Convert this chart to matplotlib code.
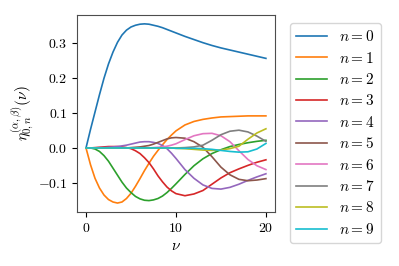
import matplotlib
matplotlib.use("Agg")
import matplotlib.pyplot as plt

plt.rcParams["font.family"] = "serif"
plt.rcParams["font.serif"] = ["cmr10"]
plt.rcParams["mathtext.fontset"] = "cm"
plt.rcParams["axes.formatter.use_mathtext"] = True
plt.rcParams["font.size"] = 10

# half steps up to 10, unit steps after
nu = [0, 0.5, 1, 1.5, 2, 2.5, 3, 3.5, 4, 4.5, 5, 5.5, 6, 6.5, 7, 7.5, 8, 8.5, 9, 9.5, 10,
      11, 12, 13, 14, 15, 16, 17, 18, 19, 20]

eta_0 = [0, 0.053, 0.103, 0.153, 0.200, 0.241, 0.275, 0.303, 0.324, 0.338, 0.347,
         0.352, 0.355, 0.356, 0.355, 0.352, 0.349, 0.345, 0.340, 0.335, 0.330,
         0.320, 0.311, 0.302, 0.294, 0.287, 0.281, 0.275, 0.269, 0.263, 0.257]
eta_1 = [0, -0.048, -0.087, -0.115, -0.135, -0.148, -0.155, -0.158, -0.155, -0.145, -0.130,
         -0.110, -0.088, -0.065, -0.044, -0.024, -0.007, 0.009, 0.024, 0.037, 0.049,
         0.066, 0.076, 0.082, 0.086, 0.089, 0.090, 0.091, 0.092, 0.092, 0.092]
eta_2 = [0, 0.0, -0.003, -0.010, -0.022, -0.038, -0.058, -0.078, -0.098, -0.115, -0.128,
         -0.139, -0.146, -0.150, -0.151, -0.149, -0.145, -0.138, -0.128, -0.116, -0.103,
         -0.076, -0.051, -0.031, -0.016, -0.005, 0.004, 0.010, 0.015, 0.019, 0.022]
eta_3 = [0, 0.0, 0.001, 0.002, 0.003, 0.004, 0.004, 0.004, 0.003, 0.001, -0.002,
         -0.008, -0.016, -0.028, -0.042, -0.060, -0.080, -0.097, -0.112, -0.123, -0.131,
         -0.137, -0.132, -0.122, -0.104, -0.086, -0.071, -0.060, -0.050, -0.041, -0.034]
eta_4 = [0, 0.0, 0.0, 0.001, 0.001, 0.002, 0.003, 0.004, 0.006, 0.008, 0.011,
         0.014, 0.017, 0.018, 0.018, 0.016, 0.013, 0.007, -0.002, -0.015, -0.030,
         -0.062, -0.087, -0.106, -0.116, -0.118, -0.113, -0.104, -0.093, -0.083, -0.074]
eta_5 = [0, 0, 0, 0, 0, 0, 0, 0, 0.0, 0.0, 0.001,
         0.002, 0.003, 0.005, 0.007, 0.011, 0.016, 0.021, 0.026, 0.029, 0.030,
         0.028, 0.018, 0.002, -0.025, -0.055, -0.077, -0.090, -0.094, -0.092, -0.088]
eta_6 = [0, 0, 0, 0, 0, 0, 0, 0, 0, 0, 0,
         0, 0, 0, 0.0, 0.001, 0.002, 0.003, 0.005, 0.008, 0.012,
         0.024, 0.035, 0.041, 0.042, 0.035, 0.018, -0.008, -0.033, -0.051, -0.062]
eta_7 = [0, 0, 0, 0, 0, 0, 0, 0, 0, 0, 0,
         0, 0, 0, 0, 0, 0, 0, 0, 0, 0.0,
         0.001, 0.003, 0.008, 0.022, 0.038, 0.048, 0.051, 0.046, 0.034, 0.019]
eta_8 = [0, 0, 0, 0, 0, 0, 0, 0, 0, 0, 0,
         0, 0, 0, 0, 0, 0, 0, 0, 0, -0.001,
         -0.002, -0.004, -0.006, -0.007, -0.006, -0.002, 0.005, 0.025, 0.043, 0.055]
eta_9 = [0, 0, 0, 0, 0, 0, 0, 0, 0, 0, 0,
         0, 0, 0, 0, 0, 0, 0, 0, 0, -0.001,
         -0.001, -0.001, -0.002, -0.004, -0.007, -0.010, -0.012, -0.011, -0.003, 0.013]

series = [eta_0, eta_1, eta_2, eta_3, eta_4, eta_5, eta_6, eta_7, eta_8, eta_9]

fig = plt.figure(figsize=(3.99, 2.66), dpi=100)
ax = fig.add_axes([0.193, 0.203, 0.496, 0.741])

for n, vals in enumerate(series):
    ax.plot(nu, vals, label=r"$n=%d$" % n, lw=1.2)

ax.set_xlabel(r"$\nu$", labelpad=3, fontsize=11)
ax.set_ylabel(r"$\eta_{0,n}^{(\alpha,\beta)}(\nu)$", labelpad=1, fontsize=11)
ax.set_xticks([0, 10, 20])
ax.set_yticks([-0.1, 0.0, 0.1, 0.2, 0.3])
for s in ax.spines.values():
    s.set_color("0.3")

fig.legend(loc="upper left", bbox_to_anchor=(290 / 399, 1 - 23 / 266),
           borderaxespad=0, frameon=True, fontsize=11, labelspacing=0.42)

fig.savefig("out.png", dpi=100)
